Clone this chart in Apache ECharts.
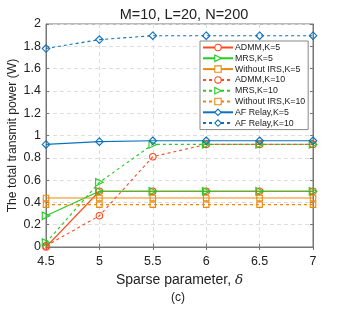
<!DOCTYPE html>
<html><head><meta charset="utf-8">
<script src="https://cdn.jsdelivr.net/npm/echarts@6/dist/echarts.min.js"></script>
<style>html,body{margin:0;padding:0;background:#fff}#c{width:346px;height:310px}</style>
</head><body><div id="c"></div>
<script>
const xValues = [4.5, 5, 5.5, 6, 6.5, 7];
const admmK5 = [0.00, 0.50, 0.50, 0.50, 0.50, 0.50];
const mrsK5 = [0.28, 0.50, 0.50, 0.50, 0.50, 0.50];
const noIrsK5 = [0.44, 0.44, 0.44, 0.44, 0.44, 0.44];
const admmK10 = [0.01, 0.28, 0.81, 0.92, 0.92, 0.92];
const mrsK10 = [0.04, 0.58, 0.92, 0.92, 0.92, 0.92];
const noIrsK10 = [0.38, 0.38, 0.38, 0.38, 0.38, 0.38];
const afK5 = [0.92, 0.945, 0.953, 0.953, 0.953, 0.953];
const afK10 = [1.78, 1.86, 1.895, 1.895, 1.895, 1.895];
const yTicks = [0, 0.2, 0.4, 0.6, 0.8, 1, 1.2, 1.4, 1.6, 1.8, 2];

const RED = '#FF4A1F', GREEN = '#1FCC1F', ORANGE = '#EA8A0C', BLUE = '#0B72BD';
const TRI = 'path://M0,0 L10,5 L0,10 Z';
const FONT = 'Liberation Sans, Arial, sans-serif';

function mk(name, data, color, symbol, size, dashed) {
  return {
    name, type: 'line', data: xValues.map((x, i) => [x, data[i]]),
    symbol, symbolSize: size, showSymbol: true,
    lineStyle: { color, width: 1.1, type: dashed ? [3, 3] : 'solid' },
    itemStyle: { color: 'rgba(255,255,255,0)', borderColor: color, borderWidth: 1.1 },
    emphasis: { disabled: true }, animation: false
  };
}

const series = [
  mk('ADMM,K=5', admmK5, RED, 'circle', 6.5, false),
  mk('MRS,K=5', mrsK5, GREEN, TRI, 7.5, false),
  mk('Without IRS,K=5', noIrsK5, ORANGE, 'rect', 5.5, false),
  mk('ADMM,K=10', admmK10, RED, 'circle', 6.5, true),
  mk('MRS,K=10', mrsK10, GREEN, TRI, 7.5, true),
  mk('Without IRS,K=10', noIrsK10, ORANGE, 'rect', 5.5, true),
  mk('AF Relay,K=5', afK5, BLUE, 'diamond', 7.5, false),
  mk('AF Relay,K=10', afK10, BLUE, 'diamond', 7.5, true)
];

const chart = echarts.init(document.getElementById('c'), null, { renderer: 'canvas' });
chart.setOption({
  animation: false,
  backgroundColor: '#fff',
  title: { text: 'M=10, L=20, N=200', left: 179, top: 2, textAlign: 'center',
    textStyle: { fontFamily: FONT, fontSize: 14.5, fontWeight: 'normal', color: '#222' } },
  grid: { left: 46, right: 33, top: 24, bottom: 63, show: true, borderColor: '#777', borderWidth: 1,
    containLabel: false, outerBoundsMode: 'none' },
  legend: {
    orient: 'vertical', left: 200, top: 41,
    backgroundColor: '#fff', borderColor: '#888', borderWidth: 1,
    padding: [2, 3, 2, 2], itemGap: 1.8, itemWidth: 30, itemHeight: 8,
    textStyle: { fontFamily: FONT, fontSize: 8.8, color: '#222', padding: [0, 0, 0, -3] },
    data: series.map(s => ({ name: s.name,
      itemStyle: { color: '#fff', borderColor: s.lineStyle.color, borderWidth: 1.1 } }))
  },
  xAxis: [{
    type: 'value', min: 4.5, max: 7, interval: 0.5,
    name: 'Sparse parameter, {d|δ}', nameLocation: 'middle', nameGap: 26, nameMoveOverlap: false,
    nameTextStyle: { fontFamily: FONT, fontSize: 14, color: '#222',
      rich: { d: { fontFamily: 'DejaVu Serif, serif', fontStyle: 'italic', fontSize: 13.5, color: '#222' } } },
    axisLine: { show: true, lineStyle: { color: '#777' } },
    axisTick: { show: true, inside: true, length: 3, lineStyle: { color: '#777' } },
    axisLabel: { fontFamily: FONT, fontSize: 12.5, color: '#222', margin: 8 },
    splitLine: { show: true, lineStyle: { color: '#ddd', type: [4, 3] } }
  }, {
    type: 'value', min: 4.5, max: 7, interval: 0.5, position: 'top',
    axisLine: { show: true, lineStyle: { color: '#777' } },
    axisTick: { show: true, inside: true, length: 3, lineStyle: { color: '#777' } },
    axisLabel: { show: false }, splitLine: { show: false }
  }],
  yAxis: [{
    type: 'value', min: 0, max: 2, interval: 0.2,
    name: 'The total transmit power (W)', nameLocation: 'middle', nameGap: 27, nameMoveOverlap: false,
    nameTextStyle: { fontFamily: FONT, fontSize: 12.2, color: '#222' },
    axisLine: { show: true, lineStyle: { color: '#777' } },
    axisTick: { show: true, inside: true, length: 3, lineStyle: { color: '#777' } },
    axisLabel: { fontFamily: FONT, fontSize: 12.5, color: '#222', margin: 5,
      formatter: v => { const t = yTicks.find(k => Math.abs(k - v) < 1e-6); return t === undefined ? '' : String(t); } },
    splitLine: { show: true, lineStyle: { color: '#ddd', type: [4, 3] } }
  }, {
    type: 'value', min: 0, max: 2, interval: 0.2, position: 'right',
    axisLine: { show: true, lineStyle: { color: '#777' } },
    axisTick: { show: true, inside: true, length: 3, lineStyle: { color: '#777' } },
    axisLabel: { show: false }, splitLine: { show: false }
  }],
  graphic: [{ type: 'text', left: 171, top: 292,
    style: { text: '(c)', fontFamily: FONT, fontSize: 12, fill: '#222' } }],
  series
});
</script></body></html>
